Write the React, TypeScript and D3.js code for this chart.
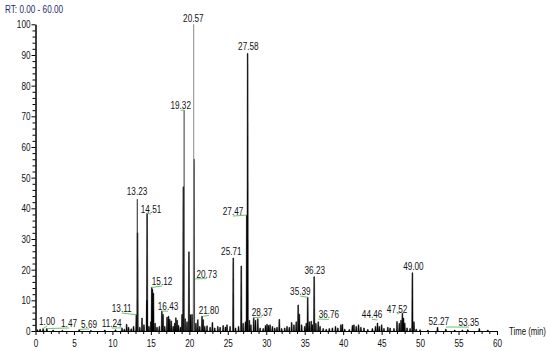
import React, { useEffect, useRef } from "react";
import * as d3 from "d3";

// chromatogram spikes: retention time (min) and relative abundance (%)
const peakRT = [
  0.25, 0.6, 1.0, 1.47, 2.3, 3.5, 5.69, 7.2, 9.0, 10.4, 11.24, 11.55, 11.85, 12.1, 12.45, 12.75,
  13.11, 13.27, 13.55, 13.85, 14.1, 14.48, 14.51, 14.75, 15.0, 15.12, 15.2, 15.33, 15.55, 15.8,
  16.1, 16.43, 16.58, 16.8, 17.1, 17.3, 17.45, 17.65, 17.9, 18.1, 18.25, 18.42, 18.6, 18.85,
  19.05, 19.22, 19.45, 19.7, 19.95, 20.15, 20.35, 20.6, 20.85, 21.1, 21.35, 21.65, 21.8, 22.0,
  22.3, 22.7, 23.0, 23.3, 23.7, 24.0, 24.4, 24.7, 24.9, 25.3, 25.71, 26.0, 26.4, 26.75, 27.0,
  27.3, 27.47, 27.58, 27.8, 28.0, 28.37, 28.6, 28.9, 29.2, 29.6, 29.9, 30.1, 30.3, 30.5, 30.8,
  31.1, 31.4, 31.7, 32.0, 32.4, 32.7, 33.0, 33.3, 33.6, 33.9, 34.15, 34.3, 34.6, 35.0, 35.2,
  35.39, 35.6, 35.85, 36.0, 36.23, 36.45, 36.76, 37.0, 37.4, 37.8, 38.2, 38.6, 39.0, 39.3, 39.7,
  39.9, 40.2, 40.8, 41.2, 41.4, 41.7, 42.0, 42.3, 42.7, 43.2, 43.8, 44.2, 44.46, 44.7, 45.0,
  45.3, 45.8, 46.1, 46.6, 47.0, 47.3, 47.52, 47.7, 47.85, 48.0, 48.3, 48.7, 49.0, 49.2, 49.5,
  50.0, 51.0, 52.27, 53.35, 54.5, 55.5, 56.2, 57.7, 58.8,
];
const peakInt = [
  0.4, 0.6, 0.8, 0.8, 0.3, 0.2, 0.5, 0.2, 0.3, 0.4, 1.0, 0.6, 2.2, 1.2, 0.7, 1.5,
  5.3, 32, 1.2, 4.2, 2.0, 10, 38.4, 1.5, 3.0, 14.2, 13.5, 12.3, 2.5, 1.2,
  1.5, 6.5, 5.4, 1.5, 4.5, 4.8, 3.8, 3.3, 1.5, 2.5, 4.3, 3.5, 1.8, 1.2,
  5.4, 47, 4.0, 3.0, 25.8, 5.3, 5.4, 56, 2.5, 3.7, 1.5, 4.8, 3.7, 1.5,
  1.7, 1.2, 2.8, 1.0, 1.5, 1.2, 1.8, 1.3, 2.0, 1.5, 23.8, 1.0, 1.5, 21.2, 2.5,
  3.0, 37.8, 90.5, 3.5, 2.0, 4.3, 3.5, 4.0, 1.0, 0.8, 1.8, 2.2, 1.8, 2.0, 1.5,
  1.0, 1.2, 3.8, 0.8, 1.0, 1.5, 1.2, 2.8, 2.0, 3.0, 8.5, 5.5, 2.0, 1.5, 2.5,
  11, 3.0, 3.2, 2.0, 17.7, 2.5, 3.0, 1.5, 0.8, 0.6, 0.8, 1.0, 1.5, 1.0, 2.0,
  2.2, 0.6, 0.5, 1.8, 2.0, 1.5, 2.0, 1.2, 1.0, 0.5, 0.8, 1.5, 2.6, 1.5, 2.0,
  0.8, 1.2, 1.0, 0.8, 3.1, 2.5, 3.5, 5.8, 4.2, 2.6, 1.0, 0.8, 19.0, 3.0, 0.6,
  0.4, 0.3, 1.2, 0.6, 0.3, 0.3, 0.4, 0.8, 0.3,
];

// thin apex traces of the tallest peaks
const thinRT = [13.23, 19.32, 20.57];
const thinInt = [43, 72, 100];
const thinColor = ["#222", "#333", "#8a8a8a"];

// peak annotations
const labelText = [
  "1.00", "1.47", "5.69", "11.24", "13.11", "13.23", "14.51", "15.12", "16.43", "19.32",
  "20.57", "20.73", "21.80", "25.71", "27.47", "27.58", "28.37", "35.39", "36.23", "36.76",
  "44.46", "47.52", "49.00", "52.27", "53.35",
];
const labelApex = [
  0.8, 0.8, 0.5, 1.0, 5.3, 43, 38.4, 14.2, 6.5, 72,
  100, 17, 4.8, 23.8, 37.8, 90.5, 4.3, 11, 17.7, 3.9,
  3.6, 6.2, 19, 1.2, 1.3,
];
// where the label text sits (minutes, %)
const labelAtRT = [
  1.5, 4.36, 6.96, 9.91, 11.21, 13.2, 15.02, 16.45, 17.23, 18.88,
  20.52, 22.26, 22.54, 25.46, 25.68, 27.67, 29.45, 34.43, 36.31, 38.14,
  43.76, 47.01, 49.13, 52.43, 56.33,
];
const labelAtInt = [
  1.95, 1.3, 1.0, 1.3, 6.2, 44.3, 38.4, 15.0, 6.8, 72.3,
  100.6, 17.4, 5.4, 24.8, 37.8, 91.5, 4.9, 11.7, 18.7, 4.1,
  4.1, 5.9, 19.9, 2.0, 1.6,
];

const xMajor = d3.range(0, 61, 5);
const xMinor = d3.range(0, 61, 1).filter((v) => v % 5 !== 0);
const yMajor = d3.range(0, 101, 10);
const yMinor = d3.range(0, 101, 2).filter((v) => v % 10 !== 0);

const FONT = "'Liberation Sans',Arial,sans-serif";
const SX = 0.78; // the original uses a narrow face

// squeeze text horizontally around its own anchor
function narrow(sel: any) {
  sel.each(function (this: any) {
    const t = d3.select(this);
    const tx = +(t.attr("x") || 0);
    const ty = +(t.attr("y") || 0);
    t.attr("transform", `translate(${tx},${ty}) scale(${SX},1)`).attr("x", 0).attr("y", 0);
  });
}

export default function App() {
  const svgRef = useRef(null);
  const width = 550;
  const height = 351;

  useEffect(() => {
    const x = d3.scaleLinear().domain([0, 60]).range([35.5, 497]);
    const y = d3.scaleLinear().domain([0, 100]).range([331, 24.3]);

    const svg = d3.select(svgRef.current);
    svg.selectAll("*").remove();

    svg.append("text")
      .attr("x", 5).attr("y", 13)
      .attr("font-family", FONT).attr("font-size", 10.5)
      .attr("fill", "#1f2a6e")
      .text("RT: 0.00 - 60.00")
      .call(narrow);

    // peaks
    const w = 0.09, w2 = 0.05;
    const spikes = svg.append("g");
    peakRT.forEach((t, i) => {
      const h = peakInt[i];
      const pts: [number, number][] = [[t - w, 0], [t - w2, h], [t + w2, h], [t + w, 0]];
      spikes.append("path")
        .attr("d", d3.line<[number, number]>().x((d) => x(d[0])).y((d) => y(d[1]))(pts) + "Z")
        .attr("fill", "#000")
        .attr("stroke", "#000")
        .attr("stroke-width", 0.5);
    });
    thinRT.forEach((t, i) => {
      spikes.append("line")
        .attr("x1", x(t)).attr("x2", x(t))
        .attr("y1", y(0)).attr("y2", y(thinInt[i]))
        .attr("stroke", thinColor[i]).attr("stroke-width", 1);
    });

    // axes
    const xAxis = svg.append("g").attr("transform", `translate(0,${y(0)})`)
      .call(d3.axisBottom(x).tickValues(xMajor).tickSize(4).tickSizeOuter(0).tickPadding(5));
    svg.append("g").attr("transform", `translate(0,${y(0)})`)
      .call(d3.axisBottom(x).tickValues(xMinor).tickSize(3).tickSizeOuter(0).tickFormat(() => ""));
    const yAxis = svg.append("g").attr("transform", `translate(${x(0)},0)`)
      .call(d3.axisLeft(y).tickValues(yMajor).tickSize(4).tickSizeOuter(0).tickPadding(1));
    svg.append("g").attr("transform", `translate(${x(0)},0)`)
      .call(d3.axisLeft(y).tickValues(yMinor).tickSize(3).tickSizeOuter(0).tickFormat(() => ""));
    [xAxis, yAxis].forEach((g) =>
      g.selectAll("text").attr("font-family", FONT).attr("font-size", 10.5).attr("fill", "#111").call(narrow)
    );
    svg.selectAll(".domain, .tick line").attr("stroke", "#000");

    svg.append("text")
      .attr("x", 509).attr("y", 335)
      .attr("font-family", FONT).attr("font-size", 10)
      .attr("fill", "#111")
      .text("Time (min)")
      .call(narrow);

    // labels with leaders
    const labels = svg.append("g");
    labelText.forEach((txt, i) => {
      const rt = parseFloat(txt);
      const lx = x(labelAtRT[i]);
      const ly = y(labelAtInt[i]);
      const px = x(rt);
      const py = y(labelApex[i]);
      if (Math.abs(lx - px) > 3) {
        labels.append("line")
          .attr("x1", lx).attr("y1", ly + 1)
          .attr("x2", px).attr("y2", py)
          .attr("stroke", "#6cc36c").attr("stroke-width", 1);
      }
      labels.append("text")
        .attr("x", lx).attr("y", ly)
        .attr("text-anchor", "middle")
        .attr("font-family", FONT).attr("font-size", 10.5)
        .attr("fill", "#111")
        .text(txt)
        .call(narrow);
    });
  }, []);

  return (
    <svg
      ref={svgRef}
      width={width}
      height={height}
      style={{ position: "absolute", left: 0, top: 0, background: "#fff" }}
    />
  );
}
